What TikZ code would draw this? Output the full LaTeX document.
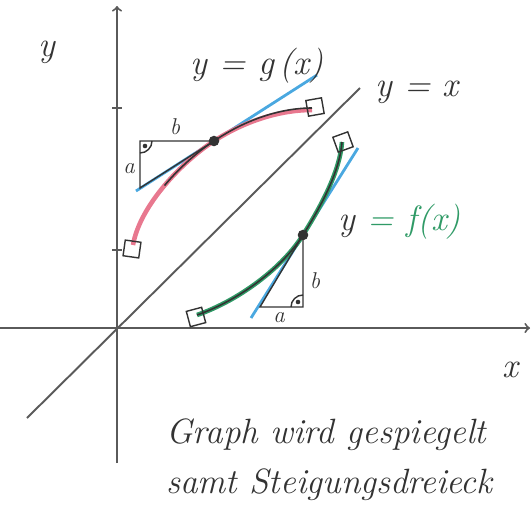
\documentclass[tikz,border=0pt]{standalone}
\usetikzlibrary{calc}
\definecolor{pencil}{HTML}{5A5A5A}
\definecolor{ink}{HTML}{333333}
\definecolor{rosa}{HTML}{E8788F}
\definecolor{hellblau}{HTML}{4AA8E0}
\definecolor{gruen}{HTML}{2F9A66}
\tikzset{
  achse/.style={pencil,line width=1.1pt},
  schrift/.style={ink,font=\itshape\fontsize{20}{26}\selectfont},
  klein/.style={ink,font=\itshape\fontsize{13}{15}\selectfont},
  endbox/.style={draw=ink,line width=0.8pt,minimum size=9pt,inner sep=0pt},
  punkt/.style={circle,fill=ink,minimum size=6pt,inner sep=0pt},
  tangente/.style={hellblau,line width=1.6pt},
  dreieck/.style={ink,line width=0.8pt}
}
\begin{document}
\begin{tikzpicture}[x=0.02cm,y=-0.02cm]
\useasboundingbox (0,0) rectangle (532,518);
% Achsen
\draw[achse,->] (0,328) -- (530,328);
\draw[achse,->] (117,463) -- (117,6);
\draw[achse] (112,108) -- (122,108);
\draw[achse] (112,250) -- (122,250);
\node[schrift] (xlab) at (510,370) {x};
\node[schrift] (ylab) at (47,52) {y};
% Winkelhalbierende
\draw[achse] (27,418) -- (360,88);
\node[schrift] (diag) at (417,92) {y = x};
% Punkte
\coordinate (P) at (214,141);
\coordinate (Q) at (303,235);
% Tangenten
\draw[tangente] (136,191) -- (317,75);
\draw[tangente] (251,318) -- (358,148);
% Graph von g
\draw[rosa,line width=2.6pt] (133,245) .. controls (140,205) and (183,161) .. (P)
  .. controls (245,121) and (280,110) .. (312,110);
\draw[ink,line width=0.9pt] (164.5,185.5) .. controls (180,167) and (198.5,151) .. (P)
  .. controls (245,120) and (280,108) .. (312,108);
% Graph von f
\draw[gruen,line width=2.6pt] (197,315) .. controls (240,300) and (283,267) .. (Q)
  .. controls (323,203) and (340,170) .. (342,142);
\draw[ink,line width=0.9pt] (197,315) .. controls (240,300) and (283,267) .. (Q)
  .. controls (323,203) and (340,170) .. (342,142);
% Endpunkte
\node[endbox,rotate=-8] (g0) at (132,249) {};
\node[endbox,rotate=10] (g1) at (315,107) {};
\node[endbox,rotate=15] (f0) at (196,317) {};
\node[endbox,rotate=20] (f1) at (343,142) {};
% Steigungsdreieck bei g
\coordinate (Ag) at (140,141);
\coordinate (Bg) at (140,188);
\draw[dreieck] (P) -- (Ag) -- (Bg) -- (P);
\draw[dreieck] ($(Ag)+(12,0)$) arc[start angle=0,end angle=90,radius=12];
\fill[ink] ($(Ag)+(5,5)$) circle (1.3pt);
\node[klein] (bg) at (175,127) {b};
\node[klein] (ag) at (129,169) {a};
% Steigungsdreieck bei f
\coordinate (Af) at (303,307);
\coordinate (Bf) at (260,307);
\draw[dreieck] (Q) -- (Af) -- (Bf) -- (Q);
\draw[dreieck] ($(Af)+(-12,0)$) arc[start angle=180,end angle=270,radius=12];
\fill[ink] ($(Af)+(-5,-5)$) circle (1.3pt);
\node[klein] (bf) at (315,281) {b};
\node[klein] (af) at (279,318) {a};
\node[punkt] (pg) at (P) {};
\node[punkt] (pf) at (Q) {};
% Beschriftungen
\node[schrift] (glab) at (257,66) {y = g\,(x)};
\node[schrift,text=gruen] (flab) at (400,222) {{\color{ink}y} = f(x)};
\node[schrift,anchor=west] (t1) at (160,435) {Graph wird gespiegelt};
\node[schrift,anchor=west] (t2) at (160,485) {samt Steigungsdreieck};
\end{tikzpicture}
\end{document}
